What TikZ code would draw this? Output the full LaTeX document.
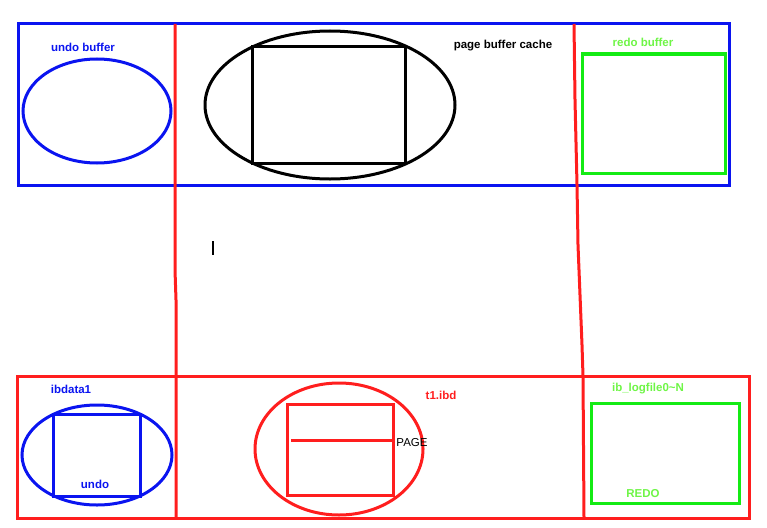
\documentclass[tikz,border=0pt]{standalone}
\usepackage{fontspec}
\setmainfont{Liberation Sans}
\usepackage{xcolor}
\usepackage{tikz}
\usetikzlibrary{shapes}
\definecolor{memblue}{RGB}{10,20,240}
\definecolor{diskred}{RGB}{255,30,30}
\definecolor{logreen}{RGB}{20,235,20}
\definecolor{lablgreen}{RGB}{110,245,70}

\begin{document}
\begin{tikzpicture}[x=1pt,y=-1pt,line width=3pt,inner sep=0pt,
    box/.style={draw,rectangle,inner sep=0pt},
    oval/.style={draw,ellipse,inner sep=0pt}]
                \useasboundingbox (0,0) rectangle (767,527);
                % memory
                \node[box,draw=memblue,minimum width=711,minimum height=161] (mem) at (373.5,104.5) {};
                \node[oval,draw=memblue,minimum width=148,minimum height=104] (undobuf) at (97,111) {};
                \node[oval,draw=black,minimum width=250,minimum height=148] (pool) at (330,105) {};
                \node[box,draw=black,minimum width=153,minimum height=116] (page) at (328.5,105) {};
                \node[box,draw=logreen,minimum width=143,minimum height=119] (redobuf) at (653.5,113.5) {};
                % disk
                \node[box,draw=diskred,minimum width=732,minimum height=142] (disk) at (383,447) {};
                \node[oval,draw=memblue,minimum width=150,minimum height=100] (ibdata) at (97,455) {};
                \node[box,draw=memblue,minimum width=87,minimum height=82] (undoseg) at (96.5,455) {};
                \node[oval,draw=diskred,minimum width=168,minimum height=132] (tbs) at (339,449) {};
                \node[box,draw=diskred,minimum width=106,minimum height=91] (pg) at (340,449.5) {};
                \node[box,draw=logreen,minimum width=148,minimum height=100] (logs) at (665,453) {};
                \coordinate (split) at (291,440);
                \draw[diskred] (split) -- (split -| pg.east);
                % red columns
                \draw[diskred] (175,24) -- (175,270) -- (176,300) -- (176,518);
                \draw[diskred] (574,24) -- (575,100) -- (577,185) -- (578,245) -- (580,295) -- (582,345) -- (583,376) -- (584,518);
                \draw[line width=1.4pt] (213,241) -- (213,255);
                \tikzstyle{every node}=[font=\fontsize{11.5}{13}\selectfont\bfseries]         % for labels
                \node[text=memblue] (undolab) at (83,47) {undo buffer};
                \node (poollab) at (503,46) {page buffer cache};
                \node[text=lablgreen] (redolab) at (643,42) {redo buffer};
                \node[text=memblue] (ibdatalab) at (71,389) {ibdata1};
                \node[text=memblue] (undosegl) at (95,484) {undo};
                \node[text=diskred] (tbslab) at (441,395) {t1.ibd};
                \node[font=\fontsize{11.5}{13}\selectfont] (pglab) at (412,443) {PAGE};
                \node[text=lablgreen] (logslab) at (648,389) {ib\_logfile0\textasciitilde N};
                \node[text=lablgreen] (redoseg) at (643,494) {REDO};
            \end{tikzpicture}
\end{document}
